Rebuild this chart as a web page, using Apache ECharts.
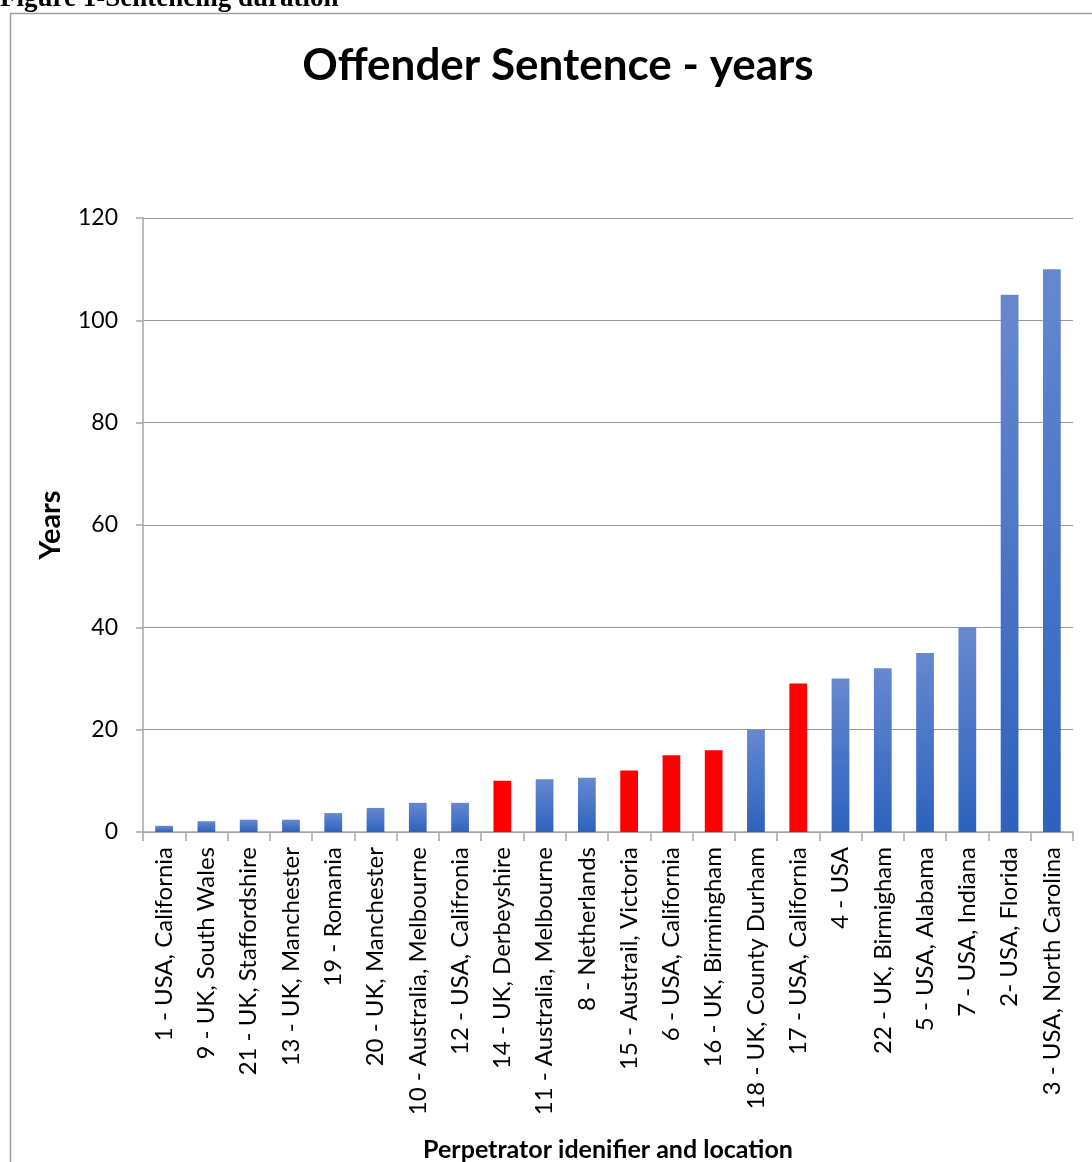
<!DOCTYPE html>
<html>
<head>
<meta charset="utf-8">
<script src="https://cdn.jsdelivr.net/npm/echarts@6/dist/echarts.min.js"></script>
<style>
html,body{margin:0;padding:0;background:#fff;}
#c{width:1092px;height:1162px;}
</style>
</head>
<body>
<div id="c"></div>
<script>
var categories = [
  "1 - USA, California", "9 - UK, South Wales", "21 - UK, Staffordshire", "13 - UK, Manchester",
  "19 - Romania", "20 - UK, Manchester", "10 - Australia, Melbourne", "12 - USA, Califronia",
  "14 - UK, Derbeyshire", "11 - Australia, Melbourne", "8 - Netherlands", "15 - Austrail, Victoria",
  "6 - USA, California", "16 - UK, Birmingham", "18 - UK, County Durham", "17 - USA, California",
  "4 - USA", "22 - UK, Birmigham", "5 - USA, Alabama", "7 - USA, Indiana",
  "2- USA, Florida", "3 - USA, North Carolina"
];
var years = [1.2, 2.1, 2.4, 2.4, 3.7, 4.7, 5.7, 5.7, 10, 10.3, 10.6, 12, 15, 16, 20, 29, 30, 32, 35, 40, 105, 110];
var highlighted = [false, false, false, false, false, false, false, false, true, false, false, true, true, true, false, true, false, false, false, false, false, false];
var yTicks = [0, 20, 40, 60, 80, 100, 120];

var blueGrad = new echarts.graphic.LinearGradient(0, 0, 0, 1, [
  {offset: 0, color: '#6688D0'},
  {offset: 1, color: '#2E62BE'}
]);

var seriesData = years.map(function (v, i) {
  return {value: v, itemStyle: {color: highlighted[i] ? '#FF0000' : blueGrad}};
});

var chart = echarts.init(document.getElementById('c'), null, {renderer: 'canvas'});
chart.setOption({
  animation: false,
  backgroundColor: '#fff',
  title: {
    text: 'Offender Sentence - years',
    left: 553, top: 39, textAlign: 'center',
    textStyle: {fontFamily: 'Lato, "Open Sans", sans-serif', fontWeight: 'bold', fontSize: 44, color: '#000'}
  },
  graphic: [
    {type: 'polyline', shape: {points: [[10.5, 1162], [10.5, 13.5], [1092, 13.5]]},
     style: {stroke: '#A0A0A0', lineWidth: 1.5, fill: null}},
    {type: 'text', left: 0, top: -14,
     style: {text: 'Figure 1-Sentencing duration', font: 'bold 27px "Liberation Serif", "DejaVu Serif", serif', fill: '#000'}}
  ],
  grid: {left: 143, right: 19, top: 218, bottom: 330, containLabel: false, outerBoundsMode: 'none'},
  xAxis: {
    type: 'category',
    data: categories,
    name: 'Perpetrator idenifier and location',
    nameLocation: 'middle',
    nameGap: 305,
    nameTextStyle: {fontFamily: 'Lato, "Open Sans", sans-serif', fontWeight: 'bold', fontSize: 25, color: '#000'},
    axisLine: {lineStyle: {color: '#A6A6A6', width: 1.5}},
    axisTick: {show: true, alignWithLabel: false, length: 9, lineStyle: {color: '#A6A6A6', width: 1.5}},
    axisLabel: {rotate: 90, interval: 0, margin: 15, fontFamily: 'Lato, "Open Sans", sans-serif', fontSize: 24, color: '#000'}
  },
  yAxis: {
    type: 'value',
    min: 0, max: 120, interval: 20,
    name: 'Years',
    nameLocation: 'middle',
    nameGap: 78,
    nameRotate: 90,
    nameTextStyle: {fontFamily: 'Lato, "Open Sans", sans-serif', fontWeight: 'bold', fontSize: 29, color: '#000'},
    axisLine: {show: true, lineStyle: {color: '#A6A6A6', width: 1.5}},
    axisTick: {show: true, inside: false, length: 7, lineStyle: {color: '#A6A6A6', width: 1.5}},
    axisLabel: {margin: 25, fontFamily: 'Lato, "Open Sans", sans-serif', fontSize: 23, color: '#000',
      formatter: function (v) { return yTicks.indexOf(v) >= 0 ? String(v) : ''; }},
    splitLine: {lineStyle: {color: '#999999', width: 1.2}}
  },
  series: [{
    type: 'bar',
    data: seriesData,
    barWidth: '42%'
  }]
});
</script>
</body>
</html>
